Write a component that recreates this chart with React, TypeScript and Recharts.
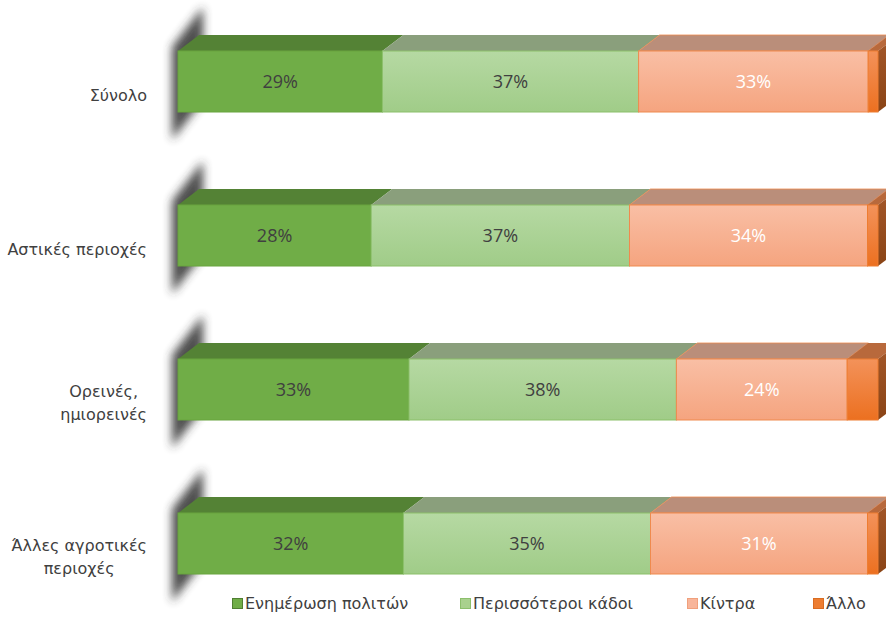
import { BarChart, Bar, XAxis, YAxis, Legend, LabelList } from 'recharts'

const CATEGORIES = ['Σύνολο', 'Αστικές περιοχές', 'Ορεινές, ημιορεινές', 'Άλλες αγροτικές περιοχές']
const CATEGORY_LINES = [['Σύνολο'], ['Αστικές περιοχές'], ['Ορεινές,', 'ημιορεινές'], ['Άλλες αγροτικές', 'περιοχές']]
const SERIES = ['Ενημέρωση πολιτών', 'Περισσότεροι κάδοι', 'Κίντρα', 'Άλλο']

const ENIMEROSI = [29.2, 27.6, 33.0, 32.2]
const KADOI = [36.6, 36.9, 38.2, 35.3]
const KINITRA = [32.8, 34.0, 24.4, 31.0]
const ALLO = [1.4, 1.5, 4.4, 1.5]

const data = CATEGORIES.map((name, i) => ({
  name,
  s0: ENIMEROSI[i],
  s1: KADOI[i],
  s2: KINITRA[i],
  s3: ALLO[i],
}))

const DX = 21
const DY = 16
const TEXT = '#404040'
const LABEL_FONT = '"DejaVu Sans", sans-serif'

const STYLES = [
  { front: '#70AD47', top: '#548235', side: '#4a7530', stroke: '#68a43f', legend: '#70AD47', legendBorder: '#507f32' },
  { front: 'url(#gKadoi)', top: '#8A9F7C', side: '#7d9470', stroke: '#8cc06b', legend: '#A9D18E', legendBorder: '#8cbf6c' },
  { front: 'url(#gKinitra)', top: '#BA8E7A', side: '#a87c68', stroke: '#EF8A4E', legend: '#F8B59A', legendBorder: '#f0a07c' },
  { front: 'url(#gAllo)', top: '#B8693C', side: 'url(#gAlloSide)', stroke: '#EE7D31', legend: '#ED7D31', legendBorder: '#d96c22' },
]

let ctx: CanvasRenderingContext2D | null = null
function textWidth(t: string, font: string) {
  if (!ctx) ctx = document.createElement('canvas').getContext('2d')
  if (!ctx) return t.length * 8
  ctx.font = font
  return ctx.measureText(t).width
}

function makeShape(si: number) {
  const st = STYLES[si]
  return (props: any) => {
    const { x, y, width: w, height: h } = props
    if (w == null || h == null) return null
    const top = `${x},${y} ${x + DX},${y - DY} ${x + w + DX},${y - DY} ${x + w},${y}`
    const side = `${x + w},${y} ${x + w + DX},${y - DY} ${x + w + DX},${y + h - DY} ${x + w},${y + h}`
    const shadow = `${x - 6},${y - 4} ${x + DX + 4},${y - DY - 28} ${x + DX + 4},${y + h - DY + 4} ${x - 6},${y + h + 28}`
    return (
      <g>
        {si === 0 && <polygon points={shadow} fill="#2e2e2e" opacity={0.85} filter="url(#blurShadow)" />}
        <polygon points={top} fill={st.top} stroke={si === 2 ? st.stroke : 'none'} strokeWidth={0.8} />
        {si === 3 && <polygon points={side} fill={st.side} />}
        <rect x={x} y={y} width={w} height={h} fill={st.front} stroke={st.stroke} strokeWidth={1} />
      </g>
    )
  }
}

function CategoryTick({ y, payload }: any) {
  const idx = CATEGORIES.indexOf(payload.value)
  const lines = CATEGORY_LINES[idx] || [payload.value]
  const font = `16px ${LABEL_FONT}`
  const blockW = Math.max(...lines.map((l) => textWidth(l, font)))
  const cx = 147 - blockW / 2
  const lh = 23
  const y0 = y + 14 - ((lines.length - 1) * lh) / 2
  return (
    <text fontSize={16} fontFamily={LABEL_FONT} fill={TEXT} textAnchor="middle">
      {lines.map((l, i) => (
        <tspan key={i} x={cx} y={y0 + i * lh} dominantBaseline="central">{l}</tspan>
      ))}
    </text>
  )
}

const LEGEND_LEFT = [232, 460, 687, 813]

function LegendRow() {
  return (
    <div style={{ position: 'relative', height: 22, fontFamily: LABEL_FONT, fontSize: 16, color: TEXT }}>
      {SERIES.map((s, i) => (
        <div key={s} style={{ position: 'absolute', left: LEGEND_LEFT[i], top: 0, display: 'flex', alignItems: 'center', whiteSpace: 'nowrap' }}>
          <span style={{ width: 9, height: 9, background: STYLES[i].legend, border: `1px solid ${STYLES[i].legendBorder}`, marginRight: 2, display: 'inline-block' }} />
          <span>{s}</span>
        </div>
      ))}
    </div>
  )
}

const fmt = (v: any) => `${Math.round(Number(v))}%`

export default function App() {
  return (
    <div style={{ position: 'absolute', left: 0, top: 0, width: 886, height: 617, overflow: 'hidden', background: '#fff' }}>
      <BarChart
        width={886}
        height={621}
        data={data}
        layout="vertical"
        margin={{ top: 4, right: 8, bottom: 1, left: 0 }}
        barSize={61}
      >
        <defs>
          <linearGradient id="gKadoi" x1="0" y1="0" x2="0" y2="1">
            <stop offset="0%" stopColor="#B6D9A3" />
            <stop offset="100%" stopColor="#A0CC88" />
          </linearGradient>
          <linearGradient id="gKinitra" x1="0" y1="0" x2="0" y2="1">
            <stop offset="0%" stopColor="#F9BFA5" />
            <stop offset="100%" stopColor="#F5A47F" />
          </linearGradient>
          <linearGradient id="gAllo" x1="0" y1="0" x2="0" y2="1">
            <stop offset="0%" stopColor="#F3925A" />
            <stop offset="100%" stopColor="#EC7020" />
          </linearGradient>
          <linearGradient id="gAlloSide" x1="0" y1="0" x2="0" y2="1">
            <stop offset="0%" stopColor="#A5582A" />
            <stop offset="100%" stopColor="#8A4416" />
          </linearGradient>
          <filter id="blurShadow" x="-100%" y="-50%" width="300%" height="200%">
            <feGaussianBlur stdDeviation="5" />
          </filter>
        </defs>
        <XAxis type="number" domain={[0, 100]} hide />
        <YAxis
          type="category"
          dataKey="name"
          width={178}
          axisLine={false}
          tickLine={false}
          tick={<CategoryTick />}
          interval={0}
        />
        <Legend
          verticalAlign="middle"
          align="center"
          layout="horizontal"
          wrapperStyle={{ top: 594, left: 0, width: 886 }}
          content={() => <LegendRow />}
        />
        {['s0', 's1', 's2', 's3'].map((k, i) => (
          <Bar key={k} dataKey={k} name={SERIES[i]} stackId="a" fill={STYLES[i].legend} shape={makeShape(i)} isAnimationActive={false}>
            {i < 3 && (
              <LabelList
                dataKey={k}
                position="center"
                formatter={fmt}
                fill={i === 2 ? '#ffffff' : TEXT}
                fontSize={18}
                fontFamily='"Open Sans", sans-serif'
              />
            )}
          </Bar>
        ))}
      </BarChart>
    </div>
  )
}
